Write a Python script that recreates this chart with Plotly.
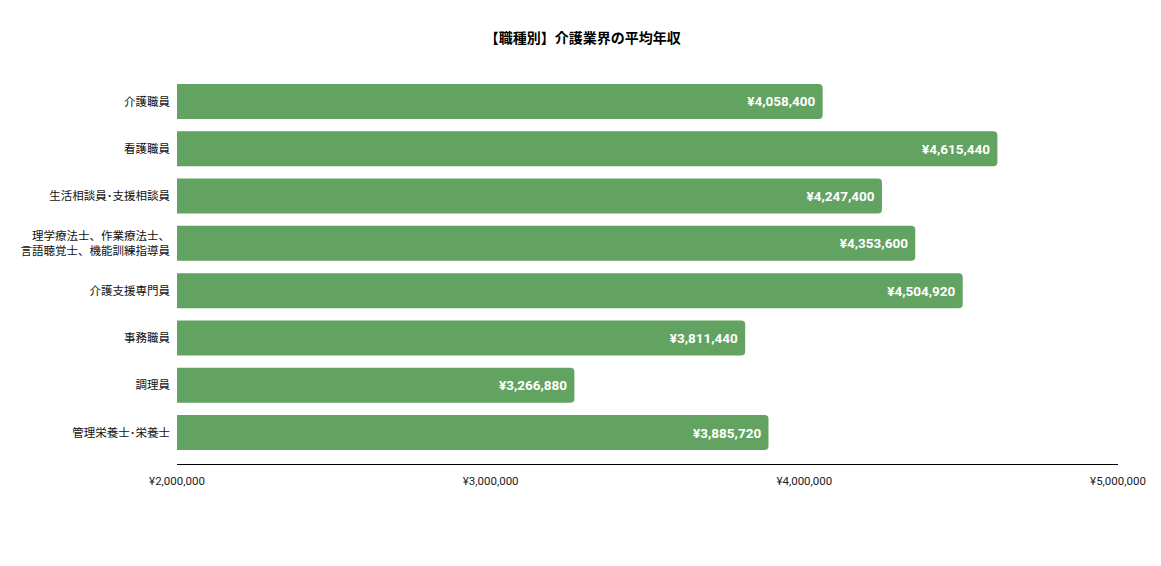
import plotly.graph_objects as go

# 職種別の平均年収（円）
job_types = [
    "介護職員",
    "看護職員",
    "生活相談員･支援相談員",
    "理学療法士、作業療法士、<br>言語聴覚士、機能訓練指導員",
    "介護支援専門員",
    "事務職員",
    "調理員",
    "管理栄養士･栄養士",
]
avg_salary = [4058400, 4615440, 4247400, 4353600, 4504920, 3811440, 3266880, 3885720]

x_ticks = [2000000, 3000000, 4000000, 5000000]

BAR_COLOR = "#62a362"
FONT = "Roboto, 'Noto Sans CJK JP', sans-serif"

fig = go.Figure(
    go.Bar(
        x=avg_salary,
        y=job_types,
        orientation="h",
        marker=dict(color=BAR_COLOR, line=dict(width=0)),
        text=[f"¥{v:,}\u00a0" for v in avg_salary],
        textposition="inside",
        insidetextanchor="end",
        textfont=dict(color="white", size=13.5, family=FONT, weight="bold"),
        width=0.74,
        hoverinfo="skip",
    )
)

# the page adds an 8px body margin, so margins are shifted by that much
fig.update_layout(
    width=1161,
    height=566,
    margin=dict(l=169, r=51, t=62, b=110),
    paper_bgcolor="white",
    plot_bgcolor="white",
    barcornerradius=4,
    showlegend=False,
    font=dict(family=FONT, color="#222222", size=11),
    title=dict(
        text="<b>【職種別】介護業界の平均年収</b>",
        x=0.495,
        xref="container",
        y=0.947,
        yref="container",
        xanchor="center",
        yanchor="middle",
        font=dict(size=14, color="#000000", family=FONT),
    ),
)

fig.update_xaxes(
    range=[2000000, 5000000],
    tickvals=x_ticks,
    ticktext=[f"¥{v:,}" for v in x_ticks],
    showgrid=False,
    zeroline=False,
    showline=True,
    linecolor="#000000",
    linewidth=1,
    ticks="",
    tickfont=dict(size=11.5, color="#222222"),
    ticklabelstandoff=6,
)

fig.update_yaxes(
    type="category",
    categoryorder="array",
    categoryarray=job_types,
    range=[7.666, -0.666],
    showgrid=False,
    zeroline=False,
    showline=False,
    ticks="",
    tickfont=dict(size=11.5, color="#111111"),
    ticklabelstandoff=6,
)

fig.write_html("out.html")
